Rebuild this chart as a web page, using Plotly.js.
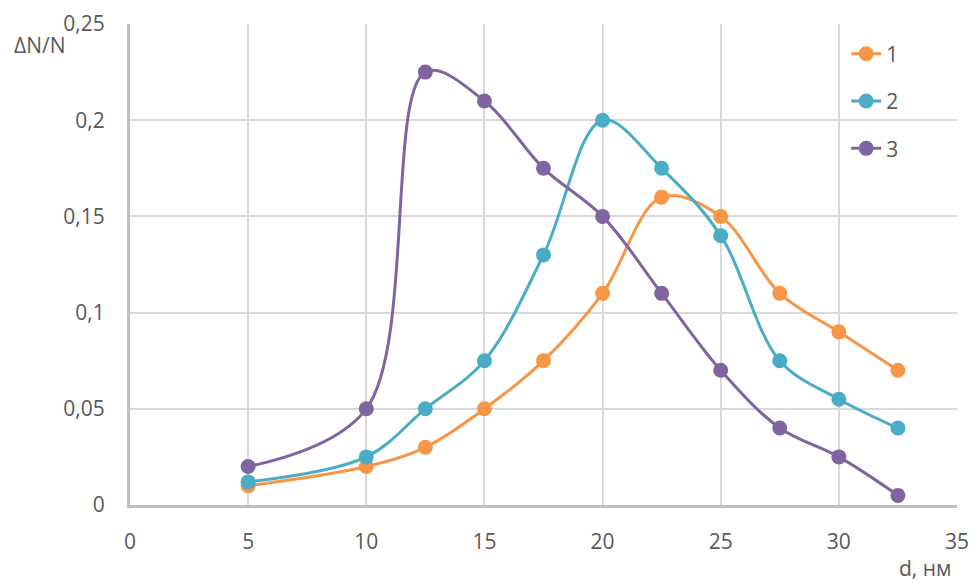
<!DOCTYPE html>
<html><head><meta charset="utf-8">
<script src="https://cdn.plot.ly/plotly-3.0.1.min.js"></script>
<style>html,body{margin:0;padding:0;background:#fff}#chart{width:970px;height:585px}</style>
</head><body><div id="chart"></div>
<script>
const d = [5, 10, 12.5, 15, 17.5, 20, 22.5, 25, 27.5, 30, 32.5];
const series1 = [0.01, 0.02, 0.03, 0.05, 0.075, 0.11, 0.16, 0.15, 0.11, 0.09, 0.07];
const series2 = [0.012, 0.025, 0.05, 0.075, 0.13, 0.2, 0.175, 0.14, 0.075, 0.055, 0.04];
const series3 = [0.02, 0.05, 0.225, 0.21, 0.175, 0.15, 0.11, 0.07, 0.04, 0.025, 0.005];
const names = ['1', '2', '3'];
const colors = ['#F79646', '#4BACC6', '#8064A2'];
const font = '"Open Sans", "Liberation Sans", sans-serif';

const traces = [series1, series2, series3].map((s, i) => ({
  x: d, y: s, name: names[i], legendgroup: 'g' + i,
  type: 'scatter', mode: 'lines+markers',
  line: {color: colors[i], width: 3, shape: 'spline', smoothing: 1},
  marker: {color: colors[i], size: 15}
}));

const layout = {
  width: 970, height: 585,
  margin: {l: 130, r: 13, t: 24, b: 80},
  separators: ', ',
  paper_bgcolor: '#fff', plot_bgcolor: '#fff',
  font: {family: font, size: 21, color: '#595959'},
  xaxis: {
    range: [0, 35], dtick: 5, tick0: 0,
    showgrid: true, gridcolor: '#d9d9d9', gridwidth: 2,
    showline: true, linecolor: '#bfbfbf', linewidth: 3,
    zeroline: false, ticks: 'outside', ticklen: 16, tickcolor: 'rgba(0,0,0,0)',
    tickfont: {size: 21, color: '#595959'}
  },
  yaxis: {
    range: [0, 0.25], dtick: 0.05, tick0: 0,
    showgrid: true, gridcolor: '#d9d9d9', gridwidth: 2,
    showline: true, linecolor: '#bfbfbf', linewidth: 3,
    zeroline: false, ticks: 'outside', ticklen: 18, tickcolor: 'rgba(0,0,0,0)',
    tickfont: {size: 21, color: '#595959'}
  },
  legend: {
    x: 0.866, y: 0.98, xanchor: 'left', yanchor: 'top',
    traceorder: 'grouped', tracegroupgap: 17,
    bgcolor: 'rgba(0,0,0,0)', font: {size: 21, color: '#595959'}
  },
  annotations: [
    {text: 'ΔN/N', xref: 'paper', yref: 'paper', x: -0.109, y: 0.956, xanchor: 'center', yanchor: 'middle', showarrow: false, font: {size: 21, color: '#595959'}},
    {text: 'd, нм', xref: 'paper', yref: 'paper', x: 0.995, y: -0.132, xanchor: 'right', yanchor: 'middle', showarrow: false, font: {size: 21, color: '#595959'}}
  ]
};

Plotly.newPlot('chart', traces, layout, {displayModeBar: false, staticPlot: true});
</script></body></html>
